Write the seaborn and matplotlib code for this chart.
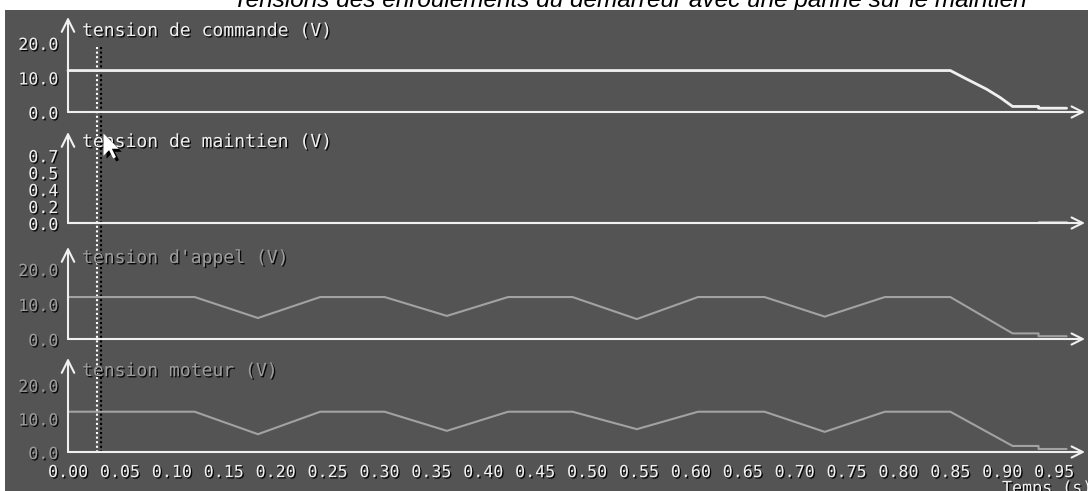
import matplotlib.pyplot as plt
from matplotlib import patheffects as pe
from matplotlib import transforms as mtransforms
from matplotlib.path import Path
import pandas as pd
import seaborn as sns

TITLE = "Tensions des enroulements du démarreur avec une panne sur le maintien"

# signals (time in s, voltage in V)
t_cmd = [0.0, 0.85, 0.866, 0.885, 0.898, 0.91, 0.935, 0.935, 0.962]
v_cmd = [12.0, 12.0, 9.5, 6.6, 4.2, 1.6, 1.6, 1.1, 1.1]

t_maint = [0.0, 0.935, 0.935, 0.962]
v_maint = [0.0, 0.0, 0.015, 0.015]

t_wave = [0.0, 0.122, 0.183, 0.243, 0.305, 0.365, 0.424, 0.486, 0.548,
          0.607, 0.671, 0.729, 0.787, 0.85, 0.91, 0.935, 0.935, 0.962]
v_appel = [12, 12, 6.0, 12, 12, 6.6, 12, 12, 5.7,
           12, 12, 6.4, 12, 12, 1.6, 1.6, 0.8, 0.8]
v_moteur = [12, 12, 5.3, 12, 12, 6.3, 12, 12, 6.8,
            12, 12, 6.0, 12, 12, 1.8, 1.8, 0.9, 0.9]

labels = ['tension de commande (V)', 'tension de maintien (V)',
          "tension d'appel (V)", 'tension moteur (V)']

y_ticks_volt = [0, 10, 20]
y_labels_volt = ['0.0', '10.0', '20.0']
y_ticks_maint = [0, 0.175, 0.35, 0.525, 0.7]
y_labels_maint = ['0.0', '0.2', '0.4', '0.5', '0.7']

x_ticks = [0.0, 0.05, 0.10, 0.15, 0.20, 0.25, 0.30, 0.35, 0.40, 0.45,
           0.50, 0.55, 0.60, 0.65, 0.70, 0.75, 0.80, 0.85, 0.90, 0.95]
x_labels = ['0.00', '0.05', '0.10', '0.15', '0.20', '0.25', '0.30', '0.35',
            '0.40', '0.45', '0.50', '0.55', '0.60', '0.65', '0.70', '0.75',
            '0.80', '0.85', '0.90', '0.95']

cursor_white = 0.028
cursor_black = 0.032
pointer_pos = (0.0337, 0.93)

sns.set_style('dark')
plt.rcParams['font.family'] = ['DejaVu Sans Mono', 'DejaVu Sans']

W, H = 1088, 491
PX = 1038.0          # pixels per second
BG = '#545454'
FG = '#f0f0f0'
GREY = '#a2a2a2'
GREY_TXT = '#9c9c9c'
SHADOW = [pe.withSimplePatchShadow(offset=(1, -1), shadow_rgbFace='black', alpha=0.9)]


def fax(x0, y_top, x1, y_bot):
    return [x0 / W, 1 - y_bot / H, (x1 - x0) / W, (y_bot - y_top) / H]


fig = plt.figure(figsize=(W / 100, H / 100), dpi=100, facecolor='white')

fig.text(630 / W, 1 - 7 / H, TITLE, ha='center', va='baseline', fontsize=17.6,
         style='italic', family='Liberation Sans', color='black', zorder=-1)

bg = fig.add_axes(fax(5, 10, W, H))
bg.set_facecolor(BG)
bg.set_xlim((5 - 68) / PX, (W - 68) / PX)
bg.set_ylim(H, 10)
bg.set_xticks([])
bg.set_yticks([])
for s in bg.spines.values():
    s.set_visible(False)
bg.plot([cursor_white] * 2, [47, 454], color='white', lw=1.5,
        ls=(0, (1, 1.2)))
bg.plot([cursor_black] * 2, [47, 454], color='black', lw=1.5,
        ls=(0, (1, 1.2)))

# (baseline px, top px, ymax, series, colour, text colour, yticks, ylabels)
panels = [
    (112, 17, 27.5, (t_cmd, v_cmd), FG, FG, y_ticks_volt, y_labels_volt),
    (223, 132, 0.94, (t_maint, v_maint), GREY, FG, y_ticks_maint, y_labels_maint),
    (339, 247, 26.3, (t_wave, v_appel), GREY, GREY_TXT, y_ticks_volt, y_labels_volt),
    (452, 358, 28.0, (t_wave, v_moteur), GREY, GREY_TXT, y_ticks_volt, y_labels_volt),
]

axes = []
for i, (base, top, ymax, (t, v), col, tcol, yt, yl) in enumerate(panels):
    ax = fig.add_axes(fax(68, top, 1085, base))
    ax.set_facecolor('none')
    df = pd.DataFrame({'t': t, 'v': v})
    sns.lineplot(data=df, x='t', y='v', ax=ax, color=col,
                 lw=2 if i == 0 else 1.5, estimator=None, sort=False,
                 clip_on=False, zorder=2)
    ax.set_xlim(0, 1017 / PX)
    ax.set_ylim(0, ymax)
    ax.set_xlabel('')
    ax.set_ylabel('')
    for s in ax.spines.values():
        s.set_visible(False)
    ax.grid(False)

    ax.annotate('', xy=(1, 0), xytext=(0, 0), xycoords='axes fraction',
                arrowprops=dict(arrowstyle='->,head_length=0.8,head_width=0.4',
                                color=FG, lw=1.5, shrinkA=0, shrinkB=0,
                                mutation_scale=10), zorder=3)
    ax.annotate('', xy=(0, 1), xytext=(0, 0), xycoords='axes fraction',
                arrowprops=dict(arrowstyle='->,head_length=0.9,head_width=0.45',
                                color=FG, lw=1.5, shrinkA=0, shrinkB=0,
                                mutation_scale=10), zorder=3)

    ax.set_xticks(x_ticks)
    ax.set_yticks(yt)
    ax.set_yticklabels(yl)
    ax.tick_params(axis='x', direction='out', length=3, width=1.5,
                   color=FG, pad=5, labelsize=12, labelcolor=FG,
                   labelbottom=(i == 3))
    ax.tick_params(axis='y', direction='out', length=6, width=1.5,
                   color=FG, pad=1, labelsize=12, labelcolor=tcol)
    if i == 3:
        ax.set_xticklabels(x_labels)
    for lab in ax.get_xticklabels() + ax.get_yticklabels():
        lab.set_path_effects(SHADOW)

    ax.annotate(labels[i], xy=(0, 0), xycoords='axes fraction',
                xytext=(14, 76), textcoords='offset pixels', ha='left',
                va='baseline', fontsize=13, color=tcol, path_effects=SHADOW)
    axes.append(ax)

# mouse pointer over the second panel
verts = [(0, 0), (0, -16), (4, -12), (7, -18), (9, -17), (6, -11), (11, -11), (0, 0)]
codes = [Path.MOVETO] + [Path.LINETO] * 6 + [Path.CLOSEPOLY]
pointer = Path(verts, codes)
ax2 = axes[1]
shift = mtransforms.offset_copy(ax2.transData, fig=fig, x=3, y=-3, units='dots')
ax2.plot([pointer_pos[0]], [pointer_pos[1]], marker=pointer, ms=36,
         color='black', mew=0, transform=shift, clip_on=False, zorder=5)
ax2.plot([pointer_pos[0]], [pointer_pos[1]], marker=pointer, ms=36,
         color='white', mew=0, clip_on=False, zorder=6)

fig.text(1002 / W, 1 - 479 / H, 'Temps (s)', ha='left', va='top',
         fontsize=12, color=FG, path_effects=SHADOW)

fig.savefig('out.png', dpi=100, facecolor='white')
